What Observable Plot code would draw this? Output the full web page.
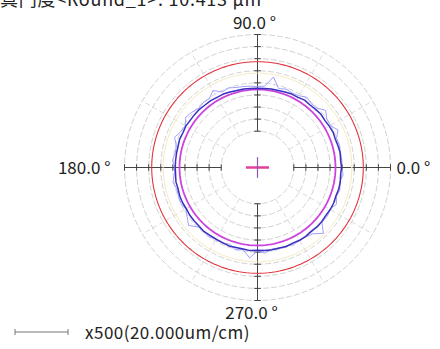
<!DOCTYPE html>
<html><head><meta charset="utf-8">
<script src="https://cdn.jsdelivr.net/npm/d3@7"></script>
<script src="https://cdn.jsdelivr.net/npm/@observablehq/plot@0.6"></script>
<style>
body{margin:0;background:#fff;font-family:"Noto Sans CJK JP","Noto Sans",sans-serif;}
#wrap{position:relative;width:440px;height:349px;overflow:hidden;background:#fff;}
#chart{position:absolute;left:0;top:0;}
#title{position:absolute;left:0;top:-13px;font-size:18px;line-height:22px;color:#222;white-space:nowrap;z-index:2;}
#caption{position:absolute;left:0;top:321px;font-size:17px;line-height:22px;color:#222;white-space:nowrap;display:flex;align-items:center;z-index:2;}
</style></head><body>
<div id="wrap"><div id="chart"></div><div id="title"></div><div id="caption"></div></div>
<script>
const titleText = "真円度<Round_1>: 10.413 μm";
const scaleText = "x500(20.000um/cm)";
const axisAngles = [0, 90, 180, 270];
const axisLabels = ["0.0 °", "90.0 °", "180.0 °", "270.0 °"];
const gridRings = [3, 4, 5, 6, 7, 8, 9, 10, 11];
const radialAngles = [30, 60, 120, 150, 210, 240, 300, 330];
const profileAngles = [0,5,10,15,20,25,30,35,40,45,50,55,60,65,70,75,80,85,90,95,100,105,110,115,120,125,130,135,140,145,150,155,160,165,170,175,180,185,190,195,200,205,210,215,220,225,230,235,240,245,250,255,260,265,270,275,280,285,290,295,300,305,310,315,320,325,330,335,340,345,350,355];
const rawProfile = [6.95,7.0,6.9,7.05,6.95,7.35,6.95,7.0,7.35,6.95,6.9,7.1,6.85,6.8,6.9,6.75,7.6,6.75,6.7,6.75,6.8,6.85,7.0,6.9,7.35,6.95,7.0,6.9,7.1,7.25,6.9,7.0,7.3,6.95,6.9,7.05,6.85,6.9,7.1,6.9,6.95,7.0,6.85,7.1,7.45,6.95,6.9,7.0,6.85,6.9,6.75,7.05,6.9,7.5,6.9,7.1,6.85,6.95,6.9,7.05,6.95,7.0,7.15,7.7,6.95,7.05,6.9,7.2,6.95,7.05,6.9,7.1];
const filteredProfile = [6.95,6.9,6.95,6.9,6.85,6.9,6.85,6.8,6.85,6.8,6.75,6.8,6.7,6.7,6.65,6.6,6.6,6.55,6.55,6.55,6.6,6.6,6.65,6.7,6.7,6.75,6.75,6.8,6.8,6.8,6.85,6.8,6.85,6.8,6.8,6.8,6.8,6.8,6.85,6.8,6.85,6.85,6.8,6.85,6.85,6.85,6.9,6.85,6.85,6.85,6.9,6.85,6.85,6.9,6.85,6.9,6.9,6.9,6.95,6.9,6.95,6.95,6.9,6.95,6.95,6.9,6.95,6.95,6.9,6.95,6.95,6.9];
const redCircleR = 8.75;
const faintCircleR = 7.8;
const lscCircleR = 6.45;
const centerMark = {x: 0, y: 0, half: 0.95};

const rad = a => a * Math.PI / 180;
const circlePts = (r, key) => d3.range(0, 361, 2).map(a => ({x: r * Math.cos(rad(a)), y: r * Math.sin(rad(a)), key}));
const profile = vals => profileAngles.map((a, i) => ({x: vals[i] * Math.cos(rad(a)), y: vals[i] * Math.sin(rad(a))}));
const ticks = axisAngles.flatMap(a => gridRings.map(r => ({a, r})));
const tk = 0.27;
const labelData = axisAngles.map((a, i) => ({a, label: axisLabels[i]}));
const outer = gridRings[gridRings.length - 1], inner = gridRings[0];
const labelStyle = {
  0: {textAnchor: "start", dx: 6, dy: 1},
  90: {textAnchor: "middle", dx: -3, dy: -11},
  180: {textAnchor: "end", dx: -14, dy: 1},
  270: {textAnchor: "middle", dx: -6, dy: 13}
};

const chart = Plot.plot({
  width: 440, height: 349,
  marginLeft: 124, marginRight: 50, marginTop: 34, marginBottom: 49,
  x: {domain: [-11, 11], axis: null},
  y: {domain: [-11, 11], axis: null},
  style: {fontFamily: '"Noto Sans CJK JP","Noto Sans",sans-serif', background: "#fff"},
  marks: [
    Plot.line(gridRings.flatMap(r => circlePts(r, r)), {x: "x", y: "y", z: "key", stroke: "#cccccc", strokeWidth: 0.9, strokeDasharray: "5,3"}),
    Plot.link(radialAngles, {x1: a => inner * Math.cos(rad(a)), y1: a => inner * Math.sin(rad(a)), x2: a => outer * Math.cos(rad(a)), y2: a => outer * Math.sin(rad(a)), stroke: "#d6d6d6", strokeWidth: 0.9, strokeDasharray: "5,3"}),
    Plot.link(axisAngles, {x1: a => inner * Math.cos(rad(a)), y1: a => inner * Math.sin(rad(a)), x2: a => outer * Math.cos(rad(a)), y2: a => outer * Math.sin(rad(a)), stroke: "#444", strokeWidth: 1}),
    Plot.link(ticks, {
      x1: d => d.r * Math.cos(rad(d.a)) - tk * Math.sin(rad(d.a)),
      y1: d => d.r * Math.sin(rad(d.a)) + tk * Math.cos(rad(d.a)),
      x2: d => d.r * Math.cos(rad(d.a)) + tk * Math.sin(rad(d.a)),
      y2: d => d.r * Math.sin(rad(d.a)) - tk * Math.cos(rad(d.a)),
      stroke: "#444", strokeWidth: 1}),
    Plot.line(circlePts(faintCircleR, "f"), {x: "x", y: "y", stroke: "#f5eac0", strokeWidth: 1}),
    Plot.line(circlePts(redCircleR, "r"), {x: "x", y: "y", stroke: "#e2333d", strokeWidth: 1.1}),
    Plot.line(profile(rawProfile), {x: "x", y: "y", curve: "linear-closed", stroke: "#a0a0ff", strokeWidth: 1}),
    Plot.line(circlePts(lscCircleR, "m"), {x: "x", y: "y", stroke: "#cc44dd", strokeWidth: 1.8}),
    Plot.line(profile(filteredProfile), {x: "x", y: "y", curve: "linear-closed", stroke: "#3b2fbf", strokeWidth: 1.5}),
    Plot.link([centerMark], {x1: d => d.x - d.half, y1: "y", x2: d => d.x + d.half, y2: "y", stroke: "#e0409a", strokeWidth: 2.5}),
    Plot.link([centerMark], {x1: "x", y1: d => d.y - d.half * 0.9, x2: "x", y2: d => d.y + d.half * 0.9, stroke: "#8a5aa8", strokeWidth: 1.2}),
    ...labelData.map(d => Plot.text([d], {
      x: d => outer * Math.cos(rad(d.a)), y: d => outer * Math.sin(rad(d.a)), text: "label",
      ...labelStyle[d.a], fontSize: 17, fill: "#222"
    }))
  ]
});
document.getElementById("chart").appendChild(chart);
const title = document.getElementById("title");
title.textContent = titleText;
const tw = title.getBoundingClientRect().width;
title.style.letterSpacing = ((262 - tw) / titleText.length) + "px";
const cap = document.getElementById("caption");
cap.innerHTML = '<svg width="80" height="12" style="display:block"><line x1="15" y1="6" x2="68" y2="6" stroke="#777" stroke-width="1"/><line x1="15" y1="3" x2="15" y2="9" stroke="#777"/><line x1="68" y1="3" x2="68" y2="9" stroke="#777"/></svg>';
const sp = document.createElement("span");
sp.style.marginLeft = "5px";
sp.textContent = scaleText;
cap.appendChild(sp);
const sw = sp.getBoundingClientRect().width;
sp.style.letterSpacing = ((165 - sw) / scaleText.length) + "px";
</script></body></html>
